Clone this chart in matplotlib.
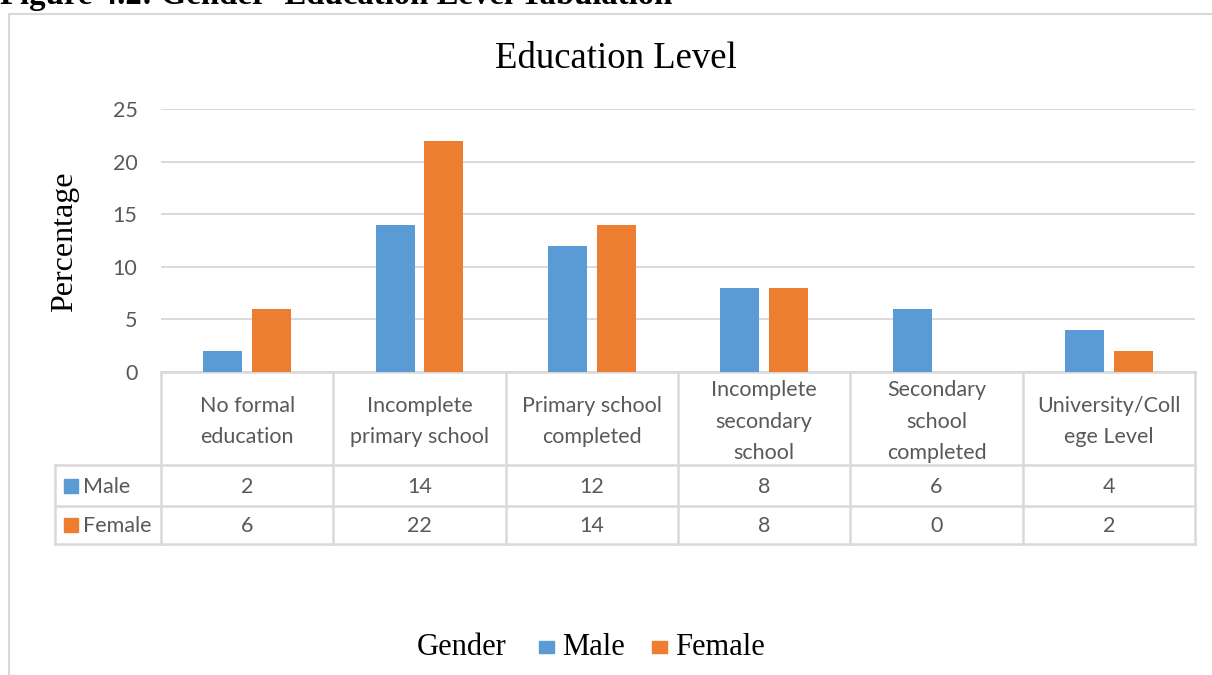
import matplotlib
matplotlib.use("Agg")
import matplotlib.pyplot as plt
import numpy as np
from matplotlib.lines import Line2D
from matplotlib.patches import Rectangle
from matplotlib.transforms import blended_transform_factory

# ---- data ----
categories = ["No formal\neducation", "Incomplete\nprimary school", "Primary school\ncompleted",
              "Incomplete\nsecondary\nschool", "Secondary\nschool\ncompleted", "University/Coll\nege Level"]
series_names = ["Male", "Female"]
male = [2, 14, 12, 8, 6, 4]
female = [6, 22, 14, 8, 0, 2]
yticks = [0, 5, 10, 15, 20, 25]
title = "Education Level"
ylabel = "Percentage"
legend_title = "Gender"
caption = "Figure 4.2: Gender- Education Level Tabulation"

colors = ["#5B9BD5", "#ED7D31"]
grid_c = "#D9D9D9"
txt_c = "#595959"
sans = ["Lato", "DejaVu Sans"]
serif = ["Liberation Serif", "DejaVu Serif"]
tfs = 15.5

W, H = 1212, 675
fig = plt.figure(figsize=(W / 100, H / 100), dpi=100)

def fx(x):
    return x / W

def fy(y):
    return 1 - y / H

# axes: left 161, right 1195, top 109 (y=25), bottom 372 (y=0)
ax = fig.add_axes([fx(161), fy(372), fx(1195 - 161), (372 - 109) / H])
x = np.arange(len(categories))
bw = 0.226
off = 0.142
ax.bar(x - off, male, width=bw, color=colors[0], zorder=3)
ax.bar(x + off, female, width=bw, color=colors[1], zorder=3)
ax.set_xlim(-0.5, len(categories) - 0.5)
ax.set_ylim(0, 25)
ax.set_yticks(yticks)
ax.set_xticks([])
ax.yaxis.grid(True, color=grid_c, lw=1.4, zorder=0)
ax.tick_params(axis="y", length=0, pad=17, labelcolor=txt_c, labelsize=tfs)
for lab in ax.get_yticklabels():
    lab.set_family(sans)
for s in ax.spines.values():
    s.set_visible(False)

# ---- data table below axes ----
tr = blended_transform_factory(ax.transData, fig.transFigure)
lw_t = 1.8
n = len(categories)
y_top, y_r1, y_r2, y_bot = 372, 465, 506, 544
left_px = 55
ax.plot([-0.5, n - 0.5], [fy(y_top)] * 2, transform=tr, color=grid_c, lw=lw_t, clip_on=False)
for yy in (y_r1, y_r2, y_bot):
    fig.add_artist(Line2D([fx(left_px), fx(1195)], [fy(yy)] * 2, color=grid_c, lw=lw_t))
for i in range(n + 1):
    ax.plot([i - 0.5, i - 0.5], [fy(y_top), fy(y_bot)], transform=tr, color=grid_c, lw=lw_t, clip_on=False)
fig.add_artist(Line2D([fx(left_px)] * 2, [fy(y_r1), fy(y_bot)], color=grid_c, lw=lw_t))

for i, c in enumerate(categories):
    ax.text(i, fy((y_top + y_r1) / 2 + 3), c, transform=tr, ha="center", va="center",
            fontsize=tfs, color=txt_c, family=sans, linespacing=1.72)
for vals, (ya, yb) in zip([male, female], [(y_r1, y_r2), (y_r2, y_bot)]):
    for i, v in enumerate(vals):
        ax.text(i, fy((ya + yb) / 2 + 1.5), str(v), transform=tr, ha="center", va="center",
                fontsize=tfs, color=txt_c, family=sans)
for name, col, (ya, yb) in zip(series_names, colors, [(y_r1, y_r2), (y_r2, y_bot)]):
    yc = (ya + yb) / 2
    fig.add_artist(Rectangle((fx(64), fy(yc + 7)), fx(14), 14 / H, color=col, transform=fig.transFigure))
    fig.text(fx(83), fy(yc + 1.5), name, ha="left", va="center", fontsize=tfs, color=txt_c, family=sans)

# ---- title, ylabel ----
fig.text(fx(616), fy(68), title, ha="center", va="baseline", fontsize=26.5, family=serif, color="black")
fig.text(fx(65), fy(242), ylabel, ha="center", va="center", rotation=90, fontsize=23, family=serif, color="black")

# ---- legend ----
fig.text(fx(417), fy(655), legend_title, ha="left", va="baseline", fontsize=22, family=serif, color="black")
leg_x = [539, 652]
for name, col, lx in zip(series_names, colors, leg_x):
    fig.add_artist(Rectangle((fx(lx), fy(653)), fx(15), 12 / H, color=col, transform=fig.transFigure))
    fig.text(fx(lx + 23), fy(655), name, ha="left", va="baseline", fontsize=22, family=serif, color="black")

# ---- caption (cut off at top, as in the source) and chart border ----
fig.text(fx(0), fy(4), caption, ha="left", va="baseline", fontsize=23.6, fontweight="bold", family=serif, color="black")
fig.add_artist(Line2D([fx(9), fx(9), fx(W)], [0, fy(14), fy(14)], color=grid_c, lw=1.5))

fig.savefig("out.png", dpi=100)
